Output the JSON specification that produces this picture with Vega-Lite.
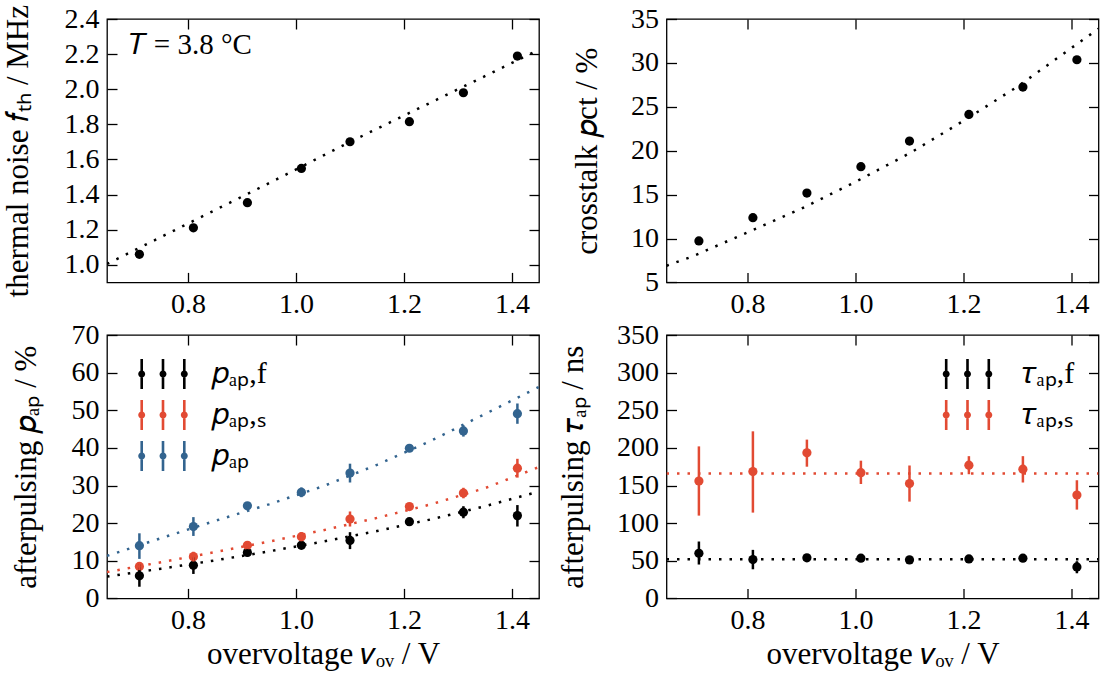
{
  "$schema": "https://vega.github.io/schema/vega-lite/v6.json",
  "padding": {"left": 1, "top": 3, "right": 0, "bottom": 0},
  "background": "white",
  "config": {
    "font": "Liberation Serif",
    "view": {"stroke": "black", "strokeWidth": 1.3},
    "scale": {"nice": false},
    "axis": {
      "labelFont": "Liberation Serif", "labelFontSize": 28, "labelColor": "black",
      "titleFont": "Liberation Serif", "titleFontSize": 31, "titleFontWeight": "normal", "titleColor": "black",
      "tickColor": "black", "tickWidth": 1.3, "tickSize": -10,
      "domain": false, "grid": false, "labelPadding": 18
    },
    "legend": {
      "labelFont": "Liberation Serif", "labelFontSize": 30, "labelColor": "black",
      "padding": 0
    }
  },
  "resolve": {"scale": {"color": "independent"}, "legend": {"color": "independent"}},
  "datasets": {
    "pts": [
      {"panel":"tl","series":"f","x":0.71,"y":1.06},
      {"panel":"tl","series":"f","x":0.81,"y":1.211},
      {"panel":"tl","series":"f","x":0.91,"y":1.354},
      {"panel":"tl","series":"f","x":1.01,"y":1.549},
      {"panel":"tl","series":"f","x":1.10,"y":1.701},
      {"panel":"tl","series":"f","x":1.21,"y":1.815},
      {"panel":"tl","series":"f","x":1.31,"y":1.98},
      {"panel":"tl","series":"f","x":1.41,"y":2.189},
      {"panel":"tr","series":"f","x":0.71,"y":9.72},
      {"panel":"tr","series":"f","x":0.81,"y":12.37},
      {"panel":"tr","series":"f","x":0.91,"y":15.18},
      {"panel":"tr","series":"f","x":1.01,"y":18.18},
      {"panel":"tr","series":"f","x":1.10,"y":21.1},
      {"panel":"tr","series":"f","x":1.21,"y":24.13},
      {"panel":"tr","series":"f","x":1.31,"y":27.25},
      {"panel":"tr","series":"f","x":1.41,"y":30.36},
      {"panel":"bl","series":"𝑝ₐₚ,f","x":0.71,"y":6.0,"lo":3.1,"hi":9.0},
      {"panel":"bl","series":"𝑝ₐₚ,f","x":0.81,"y":8.8,"lo":6.5,"hi":10.9},
      {"panel":"bl","series":"𝑝ₐₚ,f","x":0.91,"y":12.2,"lo":11.2,"hi":13.2},
      {"panel":"bl","series":"𝑝ₐₚ,f","x":1.01,"y":14.1,"lo":13.1,"hi":15.1},
      {"panel":"bl","series":"𝑝ₐₚ,f","x":1.10,"y":15.4,"lo":13.1,"hi":17.6},
      {"panel":"bl","series":"𝑝ₐₚ,f","x":1.21,"y":20.4,"lo":19.6,"hi":21.2},
      {"panel":"bl","series":"𝑝ₐₚ,f","x":1.31,"y":22.9,"lo":21.3,"hi":24.5},
      {"panel":"bl","series":"𝑝ₐₚ,f","x":1.41,"y":22.0,"lo":19.1,"hi":24.8},
      {"panel":"bl","series":"𝑝ₐₚ,ₛ","x":0.71,"y":8.5,"lo":7.5,"hi":9.5},
      {"panel":"bl","series":"𝑝ₐₚ,ₛ","x":0.81,"y":11.1,"lo":9.8,"hi":12.4},
      {"panel":"bl","series":"𝑝ₐₚ,ₛ","x":0.91,"y":14.1,"lo":13.1,"hi":15.1},
      {"panel":"bl","series":"𝑝ₐₚ,ₛ","x":1.01,"y":16.4,"lo":15.2,"hi":17.6},
      {"panel":"bl","series":"𝑝ₐₚ,ₛ","x":1.10,"y":21.1,"lo":19.1,"hi":23.1},
      {"panel":"bl","series":"𝑝ₐₚ,ₛ","x":1.21,"y":24.4,"lo":23.5,"hi":25.3},
      {"panel":"bl","series":"𝑝ₐₚ,ₛ","x":1.31,"y":28.0,"lo":26.6,"hi":29.4},
      {"panel":"bl","series":"𝑝ₐₚ,ₛ","x":1.41,"y":34.6,"lo":32.1,"hi":37.1},
      {"panel":"bl","series":"𝑝ₐₚ","x":0.71,"y":14.0,"lo":10.5,"hi":17.3},
      {"panel":"bl","series":"𝑝ₐₚ","x":0.81,"y":19.1,"lo":16.6,"hi":21.6},
      {"panel":"bl","series":"𝑝ₐₚ","x":0.91,"y":24.6,"lo":23.6,"hi":25.6},
      {"panel":"bl","series":"𝑝ₐₚ","x":1.01,"y":28.2,"lo":26.9,"hi":29.5},
      {"panel":"bl","series":"𝑝ₐₚ","x":1.10,"y":33.3,"lo":30.8,"hi":35.8},
      {"panel":"bl","series":"𝑝ₐₚ","x":1.21,"y":39.9,"lo":39.1,"hi":40.7},
      {"panel":"bl","series":"𝑝ₐₚ","x":1.31,"y":44.5,"lo":43.0,"hi":46.0},
      {"panel":"bl","series":"𝑝ₐₚ","x":1.41,"y":49.1,"lo":46.4,"hi":51.8},
      {"panel":"br","series":"𝜏ₐₚ,f","x":0.71,"y":60,"lo":45,"hi":75.6},
      {"panel":"br","series":"𝜏ₐₚ,f","x":0.81,"y":51.6,"lo":38.7,"hi":64.5},
      {"panel":"br","series":"𝜏ₐₚ,f","x":0.91,"y":53.9,"lo":50.5,"hi":57.3},
      {"panel":"br","series":"𝜏ₐₚ,f","x":1.01,"y":53.4,"lo":50,"hi":56.8},
      {"panel":"br","series":"𝜏ₐₚ,f","x":1.10,"y":51.2,"lo":46,"hi":56.4},
      {"panel":"br","series":"𝜏ₐₚ,f","x":1.21,"y":52.5,"lo":49,"hi":56},
      {"panel":"br","series":"𝜏ₐₚ,f","x":1.31,"y":53.4,"lo":50,"hi":56.8},
      {"panel":"br","series":"𝜏ₐₚ,f","x":1.41,"y":41.8,"lo":33.4,"hi":49.4},
      {"panel":"br","series":"𝜏ₐₚ,ₛ","x":0.71,"y":156,"lo":110,"hi":202},
      {"panel":"br","series":"𝜏ₐₚ,ₛ","x":0.81,"y":168.6,"lo":114,"hi":222},
      {"panel":"br","series":"𝜏ₐₚ,ₛ","x":0.91,"y":193.4,"lo":175,"hi":211},
      {"panel":"br","series":"𝜏ₐₚ,ₛ","x":1.01,"y":167,"lo":152,"hi":183},
      {"panel":"br","series":"𝜏ₐₚ,ₛ","x":1.10,"y":152.6,"lo":128.6,"hi":176.6},
      {"panel":"br","series":"𝜏ₐₚ,ₛ","x":1.21,"y":177,"lo":165,"hi":189},
      {"panel":"br","series":"𝜏ₐₚ,ₛ","x":1.31,"y":171.7,"lo":154,"hi":189},
      {"panel":"br","series":"𝜏ₐₚ,ₛ","x":1.41,"y":137.4,"lo":118,"hi":157}
    ],
    "fits": [
      {"panel":"tl","series":"f","x":0.65,"y":1.005},
      {"panel":"tl","series":"f","x":0.8,"y":1.235},
      {"panel":"tl","series":"f","x":0.95,"y":1.465},
      {"panel":"tl","series":"f","x":1.1,"y":1.70},
      {"panel":"tl","series":"f","x":1.25,"y":1.925},
      {"panel":"tl","series":"f","x":1.45,"y":2.225},
      {"panel":"tr","series":"f","x":0.65,"y":6.9},
      {"panel":"tr","series":"f","x":0.7,"y":8.0},
      {"panel":"tr","series":"f","x":0.8,"y":10.7},
      {"panel":"tr","series":"f","x":0.9,"y":13.4},
      {"panel":"tr","series":"f","x":1.0,"y":16.45},
      {"panel":"tr","series":"f","x":1.1,"y":19.7},
      {"panel":"tr","series":"f","x":1.2,"y":23.4},
      {"panel":"tr","series":"f","x":1.3,"y":27.3},
      {"panel":"tr","series":"f","x":1.4,"y":31.7},
      {"panel":"tr","series":"f","x":1.45,"y":33.9},
      {"panel":"bl","series":"𝑝ₐₚ,f","x":0.65,"y":5.8},
      {"panel":"bl","series":"𝑝ₐₚ,f","x":0.75,"y":7.9},
      {"panel":"bl","series":"𝑝ₐₚ,f","x":0.85,"y":10.1},
      {"panel":"bl","series":"𝑝ₐₚ,f","x":0.95,"y":12.5},
      {"panel":"bl","series":"𝑝ₐₚ,f","x":1.05,"y":15.1},
      {"panel":"bl","series":"𝑝ₐₚ,f","x":1.15,"y":17.9},
      {"panel":"bl","series":"𝑝ₐₚ,f","x":1.25,"y":21.0},
      {"panel":"bl","series":"𝑝ₐₚ,f","x":1.35,"y":24.5},
      {"panel":"bl","series":"𝑝ₐₚ,f","x":1.45,"y":28.4},
      {"panel":"bl","series":"𝑝ₐₚ,ₛ","x":0.65,"y":7.0},
      {"panel":"bl","series":"𝑝ₐₚ,ₛ","x":0.75,"y":9.6},
      {"panel":"bl","series":"𝑝ₐₚ,ₛ","x":0.85,"y":12.3},
      {"panel":"bl","series":"𝑝ₐₚ,ₛ","x":0.95,"y":15.1},
      {"panel":"bl","series":"𝑝ₐₚ,ₛ","x":1.05,"y":18.1},
      {"panel":"bl","series":"𝑝ₐₚ,ₛ","x":1.15,"y":21.4},
      {"panel":"bl","series":"𝑝ₐₚ,ₛ","x":1.25,"y":25.0},
      {"panel":"bl","series":"𝑝ₐₚ,ₛ","x":1.35,"y":29.3},
      {"panel":"bl","series":"𝑝ₐₚ,ₛ","x":1.45,"y":34.9},
      {"panel":"bl","series":"𝑝ₐₚ","x":0.65,"y":11.3},
      {"panel":"bl","series":"𝑝ₐₚ","x":0.75,"y":16.0},
      {"panel":"bl","series":"𝑝ₐₚ","x":0.85,"y":20.6},
      {"panel":"bl","series":"𝑝ₐₚ","x":0.95,"y":25.0},
      {"panel":"bl","series":"𝑝ₐₚ","x":1.05,"y":29.8},
      {"panel":"bl","series":"𝑝ₐₚ","x":1.15,"y":35.5},
      {"panel":"bl","series":"𝑝ₐₚ","x":1.25,"y":41.9},
      {"panel":"bl","series":"𝑝ₐₚ","x":1.35,"y":49.0},
      {"panel":"bl","series":"𝑝ₐₚ","x":1.45,"y":56.2},
      {"panel":"br","series":"𝜏ₐₚ,f","x":0.65,"y":52},
      {"panel":"br","series":"𝜏ₐₚ,f","x":1.45,"y":52},
      {"panel":"br","series":"𝜏ₐₚ,ₛ","x":0.65,"y":166},
      {"panel":"br","series":"𝜏ₐₚ,ₛ","x":1.45,"y":166}
    ]
  },
  "columns": 2,
  "bounds": "flush",
  "spacing": {"row": 52, "column": 127.5},
  "concat": [
    {
      "width": 432, "height": 263.4,
      "resolve": {"axis": {"x": "independent", "y": "independent"}},
      "layer": [
        {
          "data": {"name": "fits"},
          "transform": [{"filter": "datum.panel === 'tl'"}],
          "mark": {"type": "line", "color": "black", "strokeDash": [2.5, 8], "strokeWidth": 2.5, "clip": true},
          "encoding": {
            "x": {"field": "x", "type": "quantitative", "scale": {"domain": [0.65, 1.45], "nice": false},
                  "axis": {"orient": "bottom", "values": [0.8, 1.0, 1.2, 1.4], "format": ".1f", "title": null}},
            "y": {"field": "y", "type": "quantitative", "scale": {"domain": [0.9, 2.4], "nice": false},
                  "axis": {"orient": "left", "values": [1.0, 1.2, 1.4, 1.6, 1.8, 2.0, 2.2, 2.4], "format": ".1f",
                           "title": "thermal noise 𝑓ₜₕ / MHz", "titlePadding": 30}}
          }
        },
        {
          "data": {"name": "pts"},
          "transform": [{"filter": "datum.panel === 'tl'"}],
          "mark": {"type": "point", "filled": true, "size": 85, "opacity": 1, "color": "black"},
          "encoding": {
            "x": {"field": "x", "type": "quantitative", "scale": {"domain": [0.65, 1.45], "nice": false},
                  "axis": {"orient": "top", "values": [0.8, 1.0, 1.2, 1.4], "labels": false, "title": null}},
            "y": {"field": "y", "type": "quantitative", "scale": {"domain": [0.9, 2.4], "nice": false},
                  "axis": {"orient": "right", "values": [1.0, 1.2, 1.4, 1.6, 1.8, 2.0, 2.2, 2.4], "labels": false, "title": null}}
          }
        },
        {
          "data": {"values": [{"label": "𝑇 = 3.8 °C"}]},
          "mark": {"type": "text", "align": "left", "baseline": "alphabetic", "fontSize": 29, "font": "Liberation Serif", "color": "black"},
          "encoding": {
            "x": {"datum": 0.69, "type": "quantitative", "scale": {"domain": [0.65, 1.45], "nice": false}, "axis": null},
            "y": {"datum": 2.2, "type": "quantitative", "scale": {"domain": [0.9, 2.4], "nice": false}, "axis": null},
            "text": {"field": "label"}
          }
        }
      ]
    },
    {
      "width": 432, "height": 263.4,
      "resolve": {"axis": {"x": "independent", "y": "independent"}},
      "layer": [
        {
          "data": {"name": "fits"},
          "transform": [{"filter": "datum.panel === 'tr'"}],
          "mark": {"type": "line", "color": "black", "strokeDash": [2.5, 8], "strokeWidth": 2.5, "clip": true},
          "encoding": {
            "x": {"field": "x", "type": "quantitative", "scale": {"domain": [0.65, 1.45], "nice": false},
                  "axis": {"orient": "bottom", "values": [0.8, 1.0, 1.2, 1.4], "format": ".1f", "title": null}},
            "y": {"field": "y", "type": "quantitative", "scale": {"domain": [5, 35], "nice": false},
                  "axis": {"orient": "left", "values": [5, 10, 15, 20, 25, 30, 35],
                           "title": "crosstalk 𝑝ct / %", "titlePadding": 27}}
          }
        },
        {
          "data": {"name": "pts"},
          "transform": [{"filter": "datum.panel === 'tr'"}],
          "mark": {"type": "point", "filled": true, "size": 85, "opacity": 1, "color": "black"},
          "encoding": {
            "x": {"field": "x", "type": "quantitative", "scale": {"domain": [0.65, 1.45], "nice": false},
                  "axis": {"orient": "top", "values": [0.8, 1.0, 1.2, 1.4], "labels": false, "title": null}},
            "y": {"field": "y", "type": "quantitative", "scale": {"domain": [5, 35], "nice": false},
                  "axis": {"orient": "right", "values": [5, 10, 15, 20, 25, 30, 35], "labels": false, "title": null}}
          }
        }
      ]
    },
    {
      "width": 432, "height": 263.4,
      "resolve": {"axis": {"x": "independent", "y": "independent"}},
      "layer": [
        {
          "data": {"name": "pts"},
          "transform": [{"filter": "datum.panel === 'bl'"}],
          "mark": {"type": "point", "filled": true, "size": 85, "opacity": 1},
          "encoding": {
            "x": {"field": "x", "type": "quantitative", "scale": {"domain": [0.65, 1.45], "nice": false},
                  "axis": {"orient": "top", "values": [0.8, 1.0, 1.2, 1.4], "labels": false, "title": null}},
            "y": {"field": "y", "type": "quantitative", "scale": {"domain": [0, 70], "nice": false},
                  "axis": {"orient": "right", "values": [0, 10, 20, 30, 40, 50, 60, 70], "labels": false, "title": null}},
            "color": {"field": "series", "type": "nominal",
                      "scale": {"domain": ["𝑝ₐₚ,f", "𝑝ₐₚ,ₛ", "𝑝ₐₚ"], "range": ["#000000", "#E24A33", "#33648F"]},
                      "legend": {"title": null, "orient": "none", "legendX": 41, "legendY": 24,
                                 "symbolType": "M-1.507,-1h0.174v2h-0.174ZM-1.653,0a0.233,0.233 0 1,1 0.466,0a0.233,0.233 0 1,1 -0.466,0ZM-0.087,-1h0.174v2h-0.174ZM-0.233,0a0.233,0.233 0 1,1 0.466,0a0.233,0.233 0 1,1 -0.466,0ZM1.333,-1h0.174v2h-0.174ZM1.187,0a0.233,0.233 0 1,1 0.466,0a0.233,0.233 0 1,1 -0.466,0Z",
                                 "symbolSize": 900, "symbolStrokeWidth": 0, "symbolOpacity": 1,
                                 "labelOffset": 34, "rowPadding": 11, "labelFontSize": 30}}
          }
        },
        {
          "data": {"name": "pts"},
          "transform": [{"filter": "datum.panel === 'bl'"}],
          "mark": {"type": "rule", "strokeWidth": 2.5},
          "encoding": {
            "x": {"field": "x", "type": "quantitative", "scale": {"domain": [0.65, 1.45], "nice": false}, "axis": null},
            "y": {"field": "lo", "type": "quantitative", "scale": {"domain": [0, 70], "nice": false}, "axis": null},
            "y2": {"field": "hi"},
            "color": {"field": "series", "type": "nominal",
                      "scale": {"domain": ["𝑝ₐₚ,f", "𝑝ₐₚ,ₛ", "𝑝ₐₚ"], "range": ["#000000", "#E24A33", "#33648F"]}}
          }
        },
        {
          "data": {"name": "fits"},
          "transform": [{"filter": "datum.panel === 'bl'"}],
          "mark": {"type": "line", "strokeDash": [2.5, 8], "strokeWidth": 2.5, "clip": true},
          "encoding": {
            "x": {"field": "x", "type": "quantitative", "scale": {"domain": [0.65, 1.45], "nice": false},
                  "axis": {"orient": "bottom", "values": [0.8, 1.0, 1.2, 1.4], "format": ".1f",
                           "title": "overvoltage 𝑣ₒᵥ / V", "titlePadding": 5}},
            "y": {"field": "y", "type": "quantitative", "scale": {"domain": [0, 70], "nice": false},
                  "axis": {"orient": "left", "values": [0, 10, 20, 30, 40, 50, 60, 70],
                           "title": "afterpulsing 𝑝ₐₚ / %", "titlePadding": 28.5}},
            "color": {"field": "series", "type": "nominal",
                      "scale": {"domain": ["𝑝ₐₚ,f", "𝑝ₐₚ,ₛ", "𝑝ₐₚ"], "range": ["#000000", "#E24A33", "#33648F"]}}
          }
        }
      ]
    },
    {
      "width": 432, "height": 263.4,
      "resolve": {"axis": {"x": "independent", "y": "independent"}},
      "layer": [
        {
          "data": {"name": "pts"},
          "transform": [{"filter": "datum.panel === 'br'"}],
          "mark": {"type": "point", "filled": true, "size": 85, "opacity": 1},
          "encoding": {
            "x": {"field": "x", "type": "quantitative", "scale": {"domain": [0.65, 1.45], "nice": false},
                  "axis": {"orient": "top", "values": [0.8, 1.0, 1.2, 1.4], "labels": false, "title": null}},
            "y": {"field": "y", "type": "quantitative", "scale": {"domain": [0, 350], "nice": false},
                  "axis": {"orient": "right", "values": [0, 50, 100, 150, 200, 250, 300, 350], "labels": false, "title": null}},
            "color": {"field": "series", "type": "nominal",
                      "scale": {"domain": ["𝜏ₐₚ,f", "𝜏ₐₚ,ₛ"], "range": ["#000000", "#E24A33"]},
                      "legend": {"title": null, "orient": "none", "legendX": 286, "legendY": 24,
                                 "symbolType": "M-1.507,-1h0.174v2h-0.174ZM-1.653,0a0.233,0.233 0 1,1 0.466,0a0.233,0.233 0 1,1 -0.466,0ZM-0.087,-1h0.174v2h-0.174ZM-0.233,0a0.233,0.233 0 1,1 0.466,0a0.233,0.233 0 1,1 -0.466,0ZM1.333,-1h0.174v2h-0.174ZM1.187,0a0.233,0.233 0 1,1 0.466,0a0.233,0.233 0 1,1 -0.466,0Z",
                                 "symbolSize": 900, "symbolStrokeWidth": 0, "symbolOpacity": 1,
                                 "labelOffset": 39, "rowPadding": 11, "labelFontSize": 30}}
          }
        },
        {
          "data": {"name": "pts"},
          "transform": [{"filter": "datum.panel === 'br'"}],
          "mark": {"type": "rule", "strokeWidth": 2.5},
          "encoding": {
            "x": {"field": "x", "type": "quantitative", "scale": {"domain": [0.65, 1.45], "nice": false}, "axis": null},
            "y": {"field": "lo", "type": "quantitative", "scale": {"domain": [0, 350], "nice": false}, "axis": null},
            "y2": {"field": "hi"},
            "color": {"field": "series", "type": "nominal",
                      "scale": {"domain": ["𝜏ₐₚ,f", "𝜏ₐₚ,ₛ"], "range": ["#000000", "#E24A33"]}}
          }
        },
        {
          "data": {"name": "fits"},
          "transform": [{"filter": "datum.panel === 'br'"}],
          "mark": {"type": "line", "strokeDash": [2.5, 8], "strokeWidth": 2.5, "clip": true},
          "encoding": {
            "x": {"field": "x", "type": "quantitative", "scale": {"domain": [0.65, 1.45], "nice": false},
                  "axis": {"orient": "bottom", "values": [0.8, 1.0, 1.2, 1.4], "format": ".1f",
                           "title": "overvoltage 𝑣ₒᵥ / V", "titlePadding": 5}},
            "y": {"field": "y", "type": "quantitative", "scale": {"domain": [0, 350], "nice": false},
                  "axis": {"orient": "left", "values": [0, 50, 100, 150, 200, 250, 300, 350],
                           "title": "afterpulsing 𝜏ₐₚ / ns", "titlePadding": 27}},
            "color": {"field": "series", "type": "nominal",
                      "scale": {"domain": ["𝜏ₐₚ,f", "𝜏ₐₚ,ₛ"], "range": ["#000000", "#E24A33"]}}
          }
        }
      ]
    }
  ]
}
